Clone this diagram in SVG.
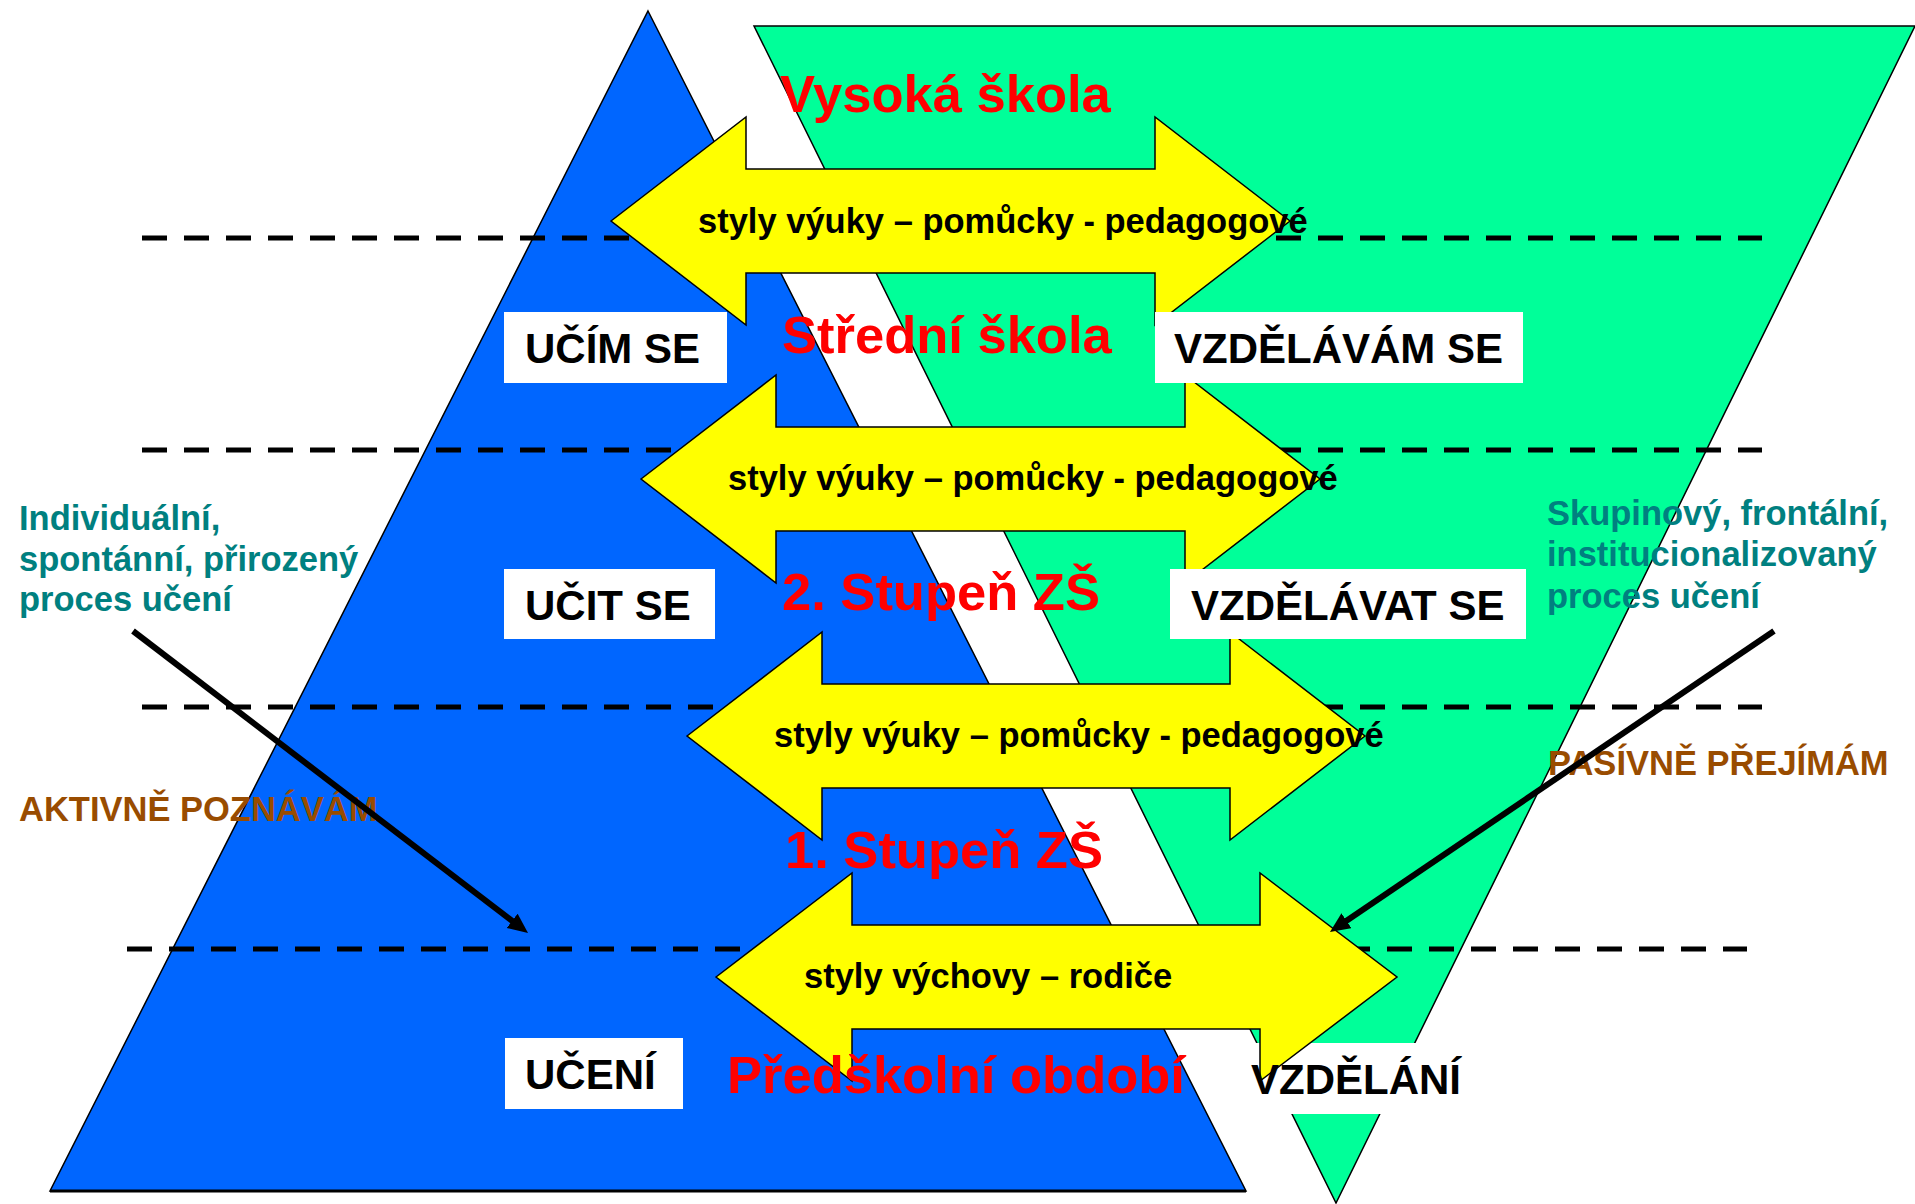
<svg xmlns="http://www.w3.org/2000/svg" width="1915" height="1204" viewBox="0 0 1915 1204">
<style>
.tri{stroke:#000;stroke-width:1.5;stroke-linejoin:miter}
.dash{stroke:#000;stroke-width:5;stroke-dasharray:25 17;fill:none}
.arr{fill:#FFFF00;stroke:#000;stroke-width:1.5}
.box{fill:#fff}
text{font-family:"Liberation Sans",Arial,"DejaVu Sans",sans-serif;font-weight:bold}
.big{font-size:52.5px;fill:#FF0000}
.lbl{font-size:42px;fill:#000}
.at{font-size:34.5px;fill:#000}
.teal{font-size:34.5px;fill:#008080}
.brown{font-size:34.5px;fill:#994C00}
.conn{stroke:#000;stroke-width:6;fill:none}
</style>
<defs>
<marker id="ah" markerUnits="userSpaceOnUse" markerWidth="22" markerHeight="20" refX="8" refY="9" orient="auto">
<path d="M0,0 L20,9 L0,18 z" fill="#000"/>
</marker>
</defs>
<rect width="1915" height="1204" fill="#fff"/>
<g id="pyramid-learning">
<polygon class="tri" fill="#0066FF" points="648,11 1246,1191 50,1191"/>
<line x1="50" y1="1191" x2="1246" y2="1191" stroke="#000" stroke-width="3"/>
</g>
<g id="pyramid-education">
<polygon class="tri" fill="#00FF99" points="754,26 1915,26 1336,1203"/>
</g>
<g id="levels">
<line class="dash" x1="142" y1="238" x2="1762" y2="238"/>
<line class="dash" x1="142" y1="450" x2="1762" y2="450"/>
<line class="dash" x1="142" y1="707" x2="1762" y2="707"/>
<line class="dash" x1="127" y1="949" x2="1747" y2="949"/>
</g>
<g id="label-vzdelani-box">
<rect class="box" x="1245" y="1043" width="222" height="71"/>
</g>
<g id="arrow-1">
<polygon class="arr" points="611,221 746,117 746,169 1155,169 1155,117 1290,221 1155,325 1155,273 746,273 746,325"/>
</g>
<g id="arrow-2">
<polygon class="arr" points="641,479 776,375 776,427 1185,427 1185,375 1320,479 1185,583 1185,531 776,531 776,583"/>
</g>
<g id="arrow-3">
<polygon class="arr" points="687,736 822,632 822,684 1230,684 1230,632 1365,736 1230,840 1230,788 822,788 822,840"/>
</g>
<g id="arrow-4">
<polygon class="arr" points="716,977 852,873 852,925 1260,925 1260,873 1397,977 1260,1081 1260,1029 852,1029 852,1081"/>
</g>
<g id="label-ucim-se">
<rect class="box" x="504" y="312" width="223" height="71"/>
<text class="lbl" x="525" y="363">UČÍM SE</text>
</g>
<g id="label-vzdelavam-se">
<rect class="box" x="1155" y="312" width="368" height="71"/>
<text class="lbl" x="1174" y="363">VZDĚLÁVÁM SE</text>
</g>
<g id="label-ucit-se">
<rect class="box" x="504" y="569" width="211" height="70"/>
<text class="lbl" x="525" y="620">UČIT SE</text>
</g>
<g id="label-vzdelavat-se">
<rect class="box" x="1170" y="569" width="356" height="70"/>
<text class="lbl" x="1191" y="620">VZDĚLÁVAT SE</text>
</g>
<g id="label-uceni">
<rect class="box" x="505" y="1038" width="178" height="71"/>
<text class="lbl" x="525" y="1089">UČENÍ</text>
</g>
<g id="label-vzdelani">
<text class="lbl" x="1251" y="1094">VZDĚLÁNÍ</text>
</g>
<g id="arrow-texts">
<text class="at" x="698" y="233">styly výuky – pomůcky - pedagogové</text>
<text class="at" x="728" y="490">styly výuky – pomůcky - pedagogové</text>
<text class="at" x="774" y="747">styly výuky – pomůcky - pedagogové</text>
<text class="at" x="804" y="988">styly výchovy – rodiče</text>
</g>
<g id="stages">
<text class="big" x="780" y="112">Vysoká škola</text>
<text class="big" x="782" y="353">Střední škola</text>
<text class="big" x="782" y="610">2. Stupeň ZŠ</text>
<text class="big" x="785" y="868">1. Stupeň ZŠ</text>
<text class="big" x="727" y="1093">Předškolní období</text>
</g>
<g id="note-left">
<text class="teal" x="19" y="530">Individuální,</text>
<text class="teal" x="19" y="571">spontánní, přirozený</text>
<text class="teal" x="19" y="611">proces učení</text>
</g>
<g id="note-right">
<text class="teal" x="1547" y="525">Skupinový, frontální,</text>
<text class="teal" x="1547" y="566">institucionalizovaný</text>
<text class="teal" x="1547" y="608">proces učení</text>
</g>
<g id="label-aktivne">
<text class="brown" x="19" y="821">AKTIVNĚ POZNÁVÁM</text>
</g>
<g id="label-pasivne">
<text class="brown" x="1548" y="775">PASÍVNĚ PŘEJÍMÁM</text>
</g>
<g id="connectors">
<line class="conn" x1="133" y1="631" x2="518.5" y2="925.7" marker-end="url(#ah)"/>
<line class="conn" x1="1774" y1="631" x2="1339.9" y2="925.3" marker-end="url(#ah)"/>
</g>
</svg>
